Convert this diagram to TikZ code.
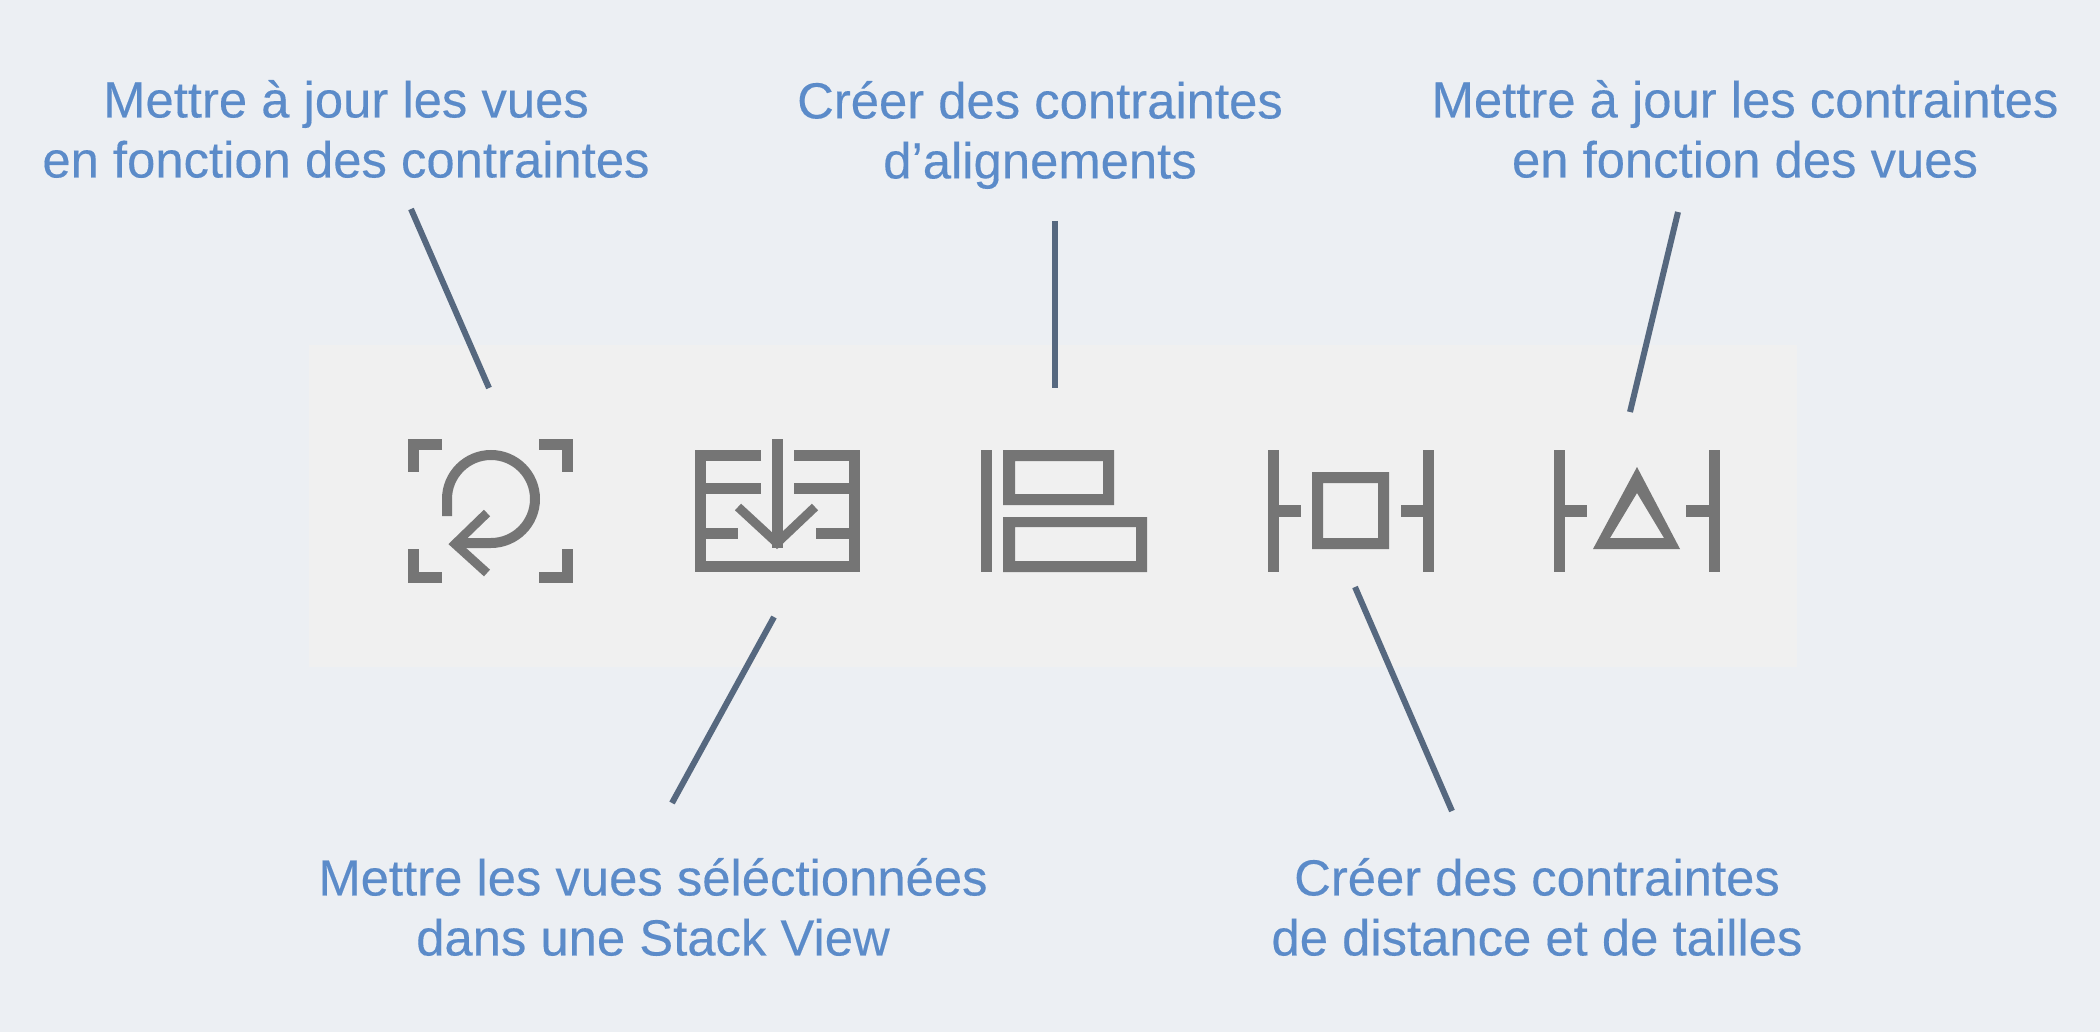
\documentclass[tikz,border=0pt]{standalone}
\usepackage{fontspec}
\setmainfont[FakeBold=0.25]{Liberation Sans}
\definecolor{bgc}{HTML}{ECEFF3}
\definecolor{panelc}{HTML}{F0F0F0}
\definecolor{iconc}{HTML}{757575}
\definecolor{textc}{HTML}{5B8BC9}
\definecolor{linec}{HTML}{56687F}
\tikzset{
  x=0.5pt,y=-0.5pt,
  lab/.style={text=textc,align=center,inner sep=0pt,font=\fontsize{25.4}{30}\selectfont},
  conn/.style={draw=linec,line width=3pt},
  ico/.style={fill=iconc,draw=none,even odd rule},
  icl/.style={draw=iconc,line width=5.5pt,line cap=butt,line join=miter},
}
\begin{document}
\begin{tikzpicture}
\useasboundingbox (0,0) rectangle (2100,1032);
\fill[bgc] (0,0) rectangle (2100,1032);
\fill[panelc] (309,345) rectangle (1797,667);
% icon 1
\draw[icl] (442,444.5) -- (413.5,444.5) -- (413.5,472);
\draw[icl] (539,444.5) -- (567.5,444.5) -- (567.5,472);
\draw[icl] (442,577.5) -- (413.5,577.5) -- (413.5,549);
\draw[icl] (539,577.5) -- (567.5,577.5) -- (567.5,549);
\draw[icl,line width=5pt] (447,516) -- (447,499) arc[start angle=180,end angle=450,radius=44] -- (457,543);
\draw[icl,line width=4.5pt] (487,513) -- (455,544) -- (487,573);
% icon 2
\draw[icl] (761,455.5) -- (700.5,455.5) -- (700.5,566.5) -- (854.5,566.5) -- (854.5,455.5) -- (794,455.5);
\draw[icl] (700,488) -- (761,488);
\draw[icl] (794,488) -- (855,488);
\draw[icl] (700,533) -- (738,533);
\draw[icl] (816,533) -- (855,533);
\draw[icl] (777,439) -- (777,548);
\draw[icl,line width=4.5pt] (738,507) -- (777,543) -- (815,507);
% icon 3
\fill[ico] (981,450) rectangle (992,572);
\fill[ico] (1003,450) rectangle (1114,505) (1015,461) rectangle (1103,494);
\fill[ico] (1003,517) rectangle (1147,572) (1015,527) rectangle (1136,561);
% icon 4
\fill[ico] (1268,450) rectangle (1279,572);
\fill[ico] (1423,450) rectangle (1434,572);
\fill[ico] (1279,505) rectangle (1301,517);
\fill[ico] (1401,505) rectangle (1423,517);
\fill[ico] (1312,472) rectangle (1389,549) (1323,483) rectangle (1378,538);
% icon 5
\fill[ico] (1554,450) rectangle (1565,572);
\fill[ico] (1709,450) rectangle (1720,572);
\fill[ico] (1565,505) rectangle (1587,517);
\fill[ico] (1686,505) rectangle (1709,517);
\fill[ico] (1637,467) -- (1680,549) -- (1593,549) -- cycle (1637,493) -- (1664,538) -- (1610,538) -- cycle;
% labels
\node[lab] (t1) at (346,129) {Mettre à jour les vues\\en fonction des contraintes};
\node[lab] (t2) at (1040,135) {Créer des contraintes\\d’alignements};
\node[lab] (t3) at (1745,129) {Mettre à jour les contraintes\\en fonction des vues};
\node[lab] (t4) at (653,907) {Mettre les vues séléctionnées\\dans une Stack View};
\node[lab] (t5) at (1537,907) {Créer des contraintes\\de distance et de tailles};
% connectors
\coordinate (a1) at (411,209); \coordinate (b1) at (489,388);
\coordinate (a2) at (1055,221); \coordinate (b2) at (1055,388);
\coordinate (a3) at (1678,212); \coordinate (b3) at (1630,412);
\coordinate (a4) at (672,803); \coordinate (b4) at (774,617);
\coordinate (a5) at (1452,811); \coordinate (b5) at (1355,587);
\draw[conn] (a1) -- (b1);
\draw[conn] (a2) -- (b2);
\draw[conn] (a3) -- (b3);
\draw[conn] (a4) -- (b4);
\draw[conn] (a5) -- (b5);
\end{tikzpicture}
\end{document}
